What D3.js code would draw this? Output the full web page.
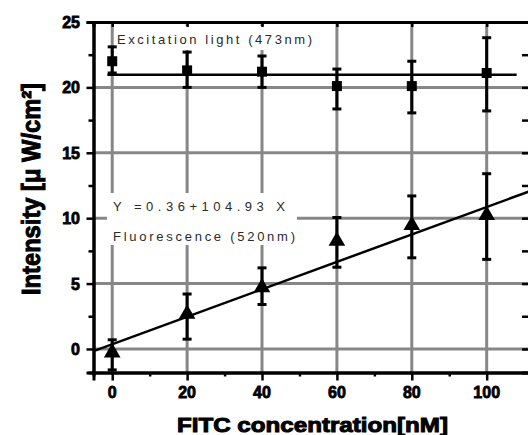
<!DOCTYPE html>
<html>
<head>
<meta charset="utf-8">
<script src="https://cdn.jsdelivr.net/npm/d3@7"></script>
<style>
  body { margin: 0; background: #fff; }
  svg { display: block; }
</style>
</head>
<body>
<svg width="528" height="435"></svg>
<script>
// data
const concentrations = [0, 20, 40, 60, 80, 100];
const excitation = [22.0, 21.3, 21.2, 20.1, 20.1, 21.1];
const excitationLow = [21.1, 20.0, 20.0, 18.35, 18.05, 18.2];
const excitationHigh = [23.1, 22.7, 22.4, 21.4, 22.0, 23.8];
const fluorescence = [-0.28, 2.67, 4.7, 8.25, 9.46, 10.23];
const fluorescenceLow = [-1.6, 0.75, 3.4, 6.25, 6.97, 6.85];
const fluorescenceHigh = [0.7, 4.2, 6.2, 10.05, 11.7, 13.4];
const excitationLine = [[-1.3, 20.97], [108, 20.97]];
const fitLine = [[-5, -0.16], [111.3, 12.04]];
const xTicks = [0, 20, 40, 60, 80, 100];
const xMinor = [10, 30, 50, 70, 90];
const yTicks = [0, 5, 10, 15, 20, 25];
const yMinor = [2.5, 7.5, 12.5, 17.5, 22.5];

const svg = d3.select('svg');

const x = d3.scaleLinear().domain([-5, 111.3]).range([93.5, 529]);
const y = d3.scaleLinear().domain([-1.8, 25]).range([372.5, 22]);

const grey = '#878787';

// grid
svg.append('g').selectAll('line')
  .data(xTicks)
  .join('line')
  .attr('x1', d => x(d)).attr('x2', d => x(d))
  .attr('y1', y(-1.8)).attr('y2', y(25))
  .attr('stroke', grey).attr('stroke-width', 3);

svg.append('g').selectAll('line')
  .data(yTicks.filter(d => d < 25))
  .join('line')
  .attr('x1', x(-5)).attr('x2', 528)
  .attr('y1', d => y(d)).attr('y2', d => y(d))
  .attr('stroke', grey).attr('stroke-width', 3);

// white label boxes
svg.append('rect').attr('x', 116).attr('y', 26).attr('width', 200).attr('height', 24).attr('fill', '#fff');
svg.append('rect').attr('x', 107).attr('y', 193).attr('width', 190).attr('height', 52).attr('fill', '#fff');

// axes
svg.append('g').attr('transform', `translate(${x(-5)},0)`)
  .call(d3.axisLeft(y).tickValues(yTicks).tickSize(7).tickFormat(''));
svg.append('g').attr('transform', `translate(${x(-5)},0)`)
  .call(d3.axisLeft(y).tickValues(yMinor).tickSize(5).tickFormat(''));
svg.append('g').attr('transform', `translate(0,${y(-1.8)})`)
  .call(d3.axisBottom(x).tickValues(xTicks).tickSize(8).tickFormat(''));
svg.append('g').attr('transform', `translate(0,${y(-1.8)})`)
  .call(d3.axisBottom(x).tickValues(xMinor).tickSize(4).tickFormat(''));
svg.append('g').attr('transform', `translate(0,${y(25)})`)
  .call(d3.axisBottom(x).tickValues(xTicks).tickSize(5).tickFormat(''));
svg.append('g').attr('transform', `translate(${x(111.3)},0)`)
  .call(d3.axisLeft(y).tickValues(yTicks.concat(yMinor)).tickSize(7).tickFormat(''));

svg.selectAll('.domain').attr('stroke', '#000').attr('stroke-width', 3);
svg.selectAll('.tick line').attr('stroke', '#000').attr('stroke-width', 2.5);

// tick labels
svg.append('g').selectAll('text')
  .data(yTicks)
  .join('text')
  .attr('x', 80).attr('y', d => y(d) + 6)
  .attr('text-anchor', 'end')
  .attr('font-family', 'Liberation Sans, Arial, sans-serif')
  .attr('font-weight', 'bold').attr('font-size', 16)
  .attr('stroke', '#000').attr('stroke-width', 0.8)
  .text(d => d);

svg.append('g').selectAll('text')
  .data(xTicks)
  .join('text')
  .attr('x', d => x(d)).attr('y', 398)
  .attr('text-anchor', 'middle')
  .attr('font-family', 'Liberation Sans, Arial, sans-serif')
  .attr('font-weight', 'bold').attr('font-size', 16)
  .attr('stroke', '#000').attr('stroke-width', 0.8)
  .text(d => d);

// axis titles
svg.append('text')
  .attr('x', 177).attr('y', 432)
  .attr('textLength', 271).attr('lengthAdjust', 'spacingAndGlyphs')
  .attr('font-family', 'Liberation Sans, Arial, sans-serif')
  .attr('font-weight', 'bold').attr('font-size', 21)
  .attr('stroke', '#000').attr('stroke-width', 1)
  .text('FITC concentration[nM]');

svg.append('text')
  .attr('transform', 'translate(40,295) rotate(-90)')
  .attr('textLength', 212).attr('lengthAdjust', 'spacingAndGlyphs')
  .attr('font-family', 'Liberation Sans, Arial, sans-serif')
  .attr('font-weight', 'bold').attr('font-size', 26)
  .attr('stroke', '#000').attr('stroke-width', 1)
  .text('Intensity [\u03bc W/cm\u00b2]');

// annotations
const note = (tx, ty, len, str) => svg.append('text')
  .attr('x', tx).attr('y', ty)
  .attr('textLength', len).attr('lengthAdjust', 'spacing')
  .attr('font-family', 'Liberation Sans, Arial, sans-serif')
  .attr('font-size', 13).attr('fill', '#2a2a2a')
  .text(str);
note(117, 44, 195, 'Excitation light (473nm)');
note(113, 211, 172, 'Y =0.36+104.93 X');
note(113, 241, 182, 'Fluorescence (520nm)');

// lines
const line = d3.line().x(d => x(d[0])).y(d => y(d[1]));
svg.append('path').datum(excitationLine)
  .attr('d', line).attr('fill', 'none').attr('stroke', '#000').attr('stroke-width', 2.5);
svg.append('path').datum(fitLine)
  .attr('d', line).attr('fill', 'none').attr('stroke', '#000').attr('stroke-width', 2.5);

// error bars
function errorBars(lows, highs) {
  const g = svg.append('g').attr('stroke', '#000').attr('stroke-width', 3);
  concentrations.forEach((c, i) => {
    g.append('line').attr('x1', x(c)).attr('x2', x(c)).attr('y1', y(lows[i])).attr('y2', y(highs[i]));
    g.append('line').attr('x1', x(c) - 4.5).attr('x2', x(c) + 4.5).attr('y1', y(lows[i])).attr('y2', y(lows[i]));
    g.append('line').attr('x1', x(c) - 4.5).attr('x2', x(c) + 4.5).attr('y1', y(highs[i])).attr('y2', y(highs[i]));
  });
}
errorBars(excitationLow, excitationHigh);
errorBars(fluorescenceLow, fluorescenceHigh);

// markers
svg.append('g').selectAll('path')
  .data(concentrations)
  .join('path')
  .attr('transform', (d, i) => `translate(${x(d)},${y(excitation[i])})`)
  .attr('d', d3.symbol(d3.symbolSquare, 100))
  .attr('fill', '#000');

svg.append('g').selectAll('path')
  .data(concentrations)
  .join('path')
  .attr('transform', (d, i) => `translate(${x(d)},${y(fluorescence[i])})`)
  .attr('d', d3.symbol(d3.symbolTriangle, 120))
  .attr('fill', '#000');
</script>
</body>
</html>
